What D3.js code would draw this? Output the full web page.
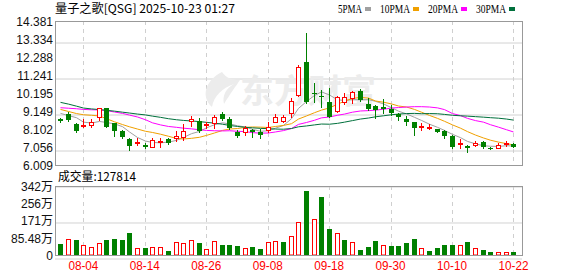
<!DOCTYPE html>
<html>
<head>
<meta charset="utf-8">
<script src="https://cdn.jsdelivr.net/npm/d3@7"></script>
<style>
  body { margin: 0; background: #fff; }
  svg { display: block; font-family: "Liberation Sans", Arial, sans-serif; }
</style>
</head>
<body>
<div id="chart"></div>
<script>
// trading days shown (MM-DD)
var dates = ["07-30","07-31","08-01","08-04","08-05","08-06","08-07","08-08",
  "08-11","08-12","08-13","08-14","08-15","08-18","08-19","08-20","08-21","08-22",
  "08-25","08-26","08-27","08-28","08-29","09-02","09-03","09-04","09-05",
  "09-08","09-09","09-10","09-11","09-12","09-15","09-16","09-17","09-18","09-19",
  "09-22","09-23","09-24","09-25","09-26","09-29","09-30","10-01","10-02","10-03",
  "10-06","10-07","10-08","10-09","10-10","10-13","10-14","10-15","10-16","10-17",
  "10-20","10-21","10-22"];

var opens = [8.66,8.95,8.39,8.26,8.33,8.82,9.30,8.43,8.00,7.54,7.29,7.19,7.08,7.37,7.50,7.60,7.66,8.59,8.57,8.32,
  8.47,8.95,8.68,7.95,7.95,8.04,7.95,8.02,8.53,8.59,9.01,10.06,12.00,10.17,10.02,9.69,9.15,9.69,9.88,10.31,
  9.56,9.42,9.36,9.25,8.95,8.68,8.49,8.20,8.20,8.10,7.99,7.70,7.23,7.11,7.15,7.35,7.02,7.00,7.25,7.21];
var highs = [8.76,9.11,8.43,8.66,8.68,9.34,9.34,8.43,8.04,7.56,7.60,7.27,7.56,7.56,7.60,7.99,8.37,8.86,8.72,8.49,
  8.92,9.11,8.82,8.04,8.30,8.08,8.08,8.49,8.97,8.92,9.88,11.82,13.66,10.76,10.37,10.47,10.02,10.17,10.33,10.41,
  9.88,9.50,9.83,9.48,9.05,8.86,8.49,8.43,8.37,8.12,8.04,7.73,7.54,7.19,7.42,7.42,7.07,7.27,7.40,7.31];
var lows = [8.49,8.55,7.93,8.20,8.24,8.63,8.22,7.71,7.56,6.88,7.17,6.98,7.04,7.04,7.21,7.40,7.46,8.29,7.95,8.14,
  8.14,8.61,8.10,7.66,7.75,7.66,7.60,7.91,8.49,8.49,8.82,10.02,9.60,9.69,9.40,8.78,9.11,9.55,9.59,9.75,
  9.21,8.72,9.05,8.90,8.62,8.35,7.77,8.04,8.08,7.93,7.60,7.00,7.00,6.75,7.13,7.00,6.92,6.98,7.13,7.04];
var closes = [8.57,8.63,8.00,8.33,8.49,9.30,8.24,8.00,7.62,7.13,7.33,7.06,7.46,7.42,7.31,7.69,7.99,8.66,7.99,8.37,
  8.82,8.66,8.14,7.71,8.18,7.91,7.75,8.24,8.78,8.82,9.73,11.69,9.69,10.15,9.98,8.82,9.94,9.94,10.25,9.79,
  9.25,9.21,9.25,9.05,8.78,8.51,8.16,8.28,8.22,7.93,7.70,7.04,7.31,7.02,7.31,7.04,6.98,7.15,7.27,7.04];

// volume in 万 shares, and colour of each volume bar (1 = red, 0 = green)
var volumes = [54.5,77.6,74.3,47.9,38.0,57.8,74.3,79.3,74.3,109.0,33.0,34.7,38.0,38.0,19.8,66.1,59.5,72.7,59.5,28.1,
  67.7,49.6,49.6,44.6,33.0,39.6,31.4,64.4,69.4,64.4,94.2,163.5,317.2,176.8,289.1,128.9,107.4,74.3,64.4,24.8,
  39.6,69.4,49.6,44.6,44.6,59.5,79.3,33.0,19.8,34.7,49.6,49.6,49.6,64.4,33.0,24.8,14.9,14.9,14.9,12.7814];
var volUp = [0,1,0,1,1,1,0,0,0,0,1,0,1,1,0,1,1,1,0,1,1,0,0,0,1,0,0,1,1,0,
  1,1,0,1,0,0,1,0,1,0,0,0,1,0,0,0,0,1,0,0,0,0,1,0,1,0,0,1,1,0];

// moving averages
var ma5 = [9.01,8.88,8.76,8.50,8.45,8.54,8.48,8.40,8.24,7.93,7.61,7.40,7.32,7.30,7.34,7.44,7.61,7.83,7.96,8.17,
  8.35,8.46,8.40,8.29,8.22,8.08,7.97,8.00,8.15,8.31,8.70,9.30,9.70,10.05,10.26,10.08,9.80,9.76,9.81,9.80,
  9.81,9.71,9.56,9.34,9.14,8.98,8.78,8.60,8.38,8.20,8.02,7.79,7.60,7.38,7.24,7.13,7.10,7.09,7.13,7.11];
var ma10 = [9.24,9.12,9.00,8.93,8.90,8.86,8.70,8.52,8.36,8.23,8.10,7.97,7.90,7.80,7.68,7.55,7.52,7.56,7.62,7.73,
  7.87,8.02,8.10,8.13,8.20,8.22,8.21,8.19,8.25,8.31,8.41,8.68,8.86,9.05,9.20,9.33,9.54,9.72,9.88,9.94,
  9.90,9.73,9.66,9.56,9.44,9.38,9.24,9.08,8.89,8.72,8.55,8.34,8.15,7.95,7.75,7.58,7.45,7.34,7.25,7.18];
var ma20 = [9.34,9.31,9.28,9.24,9.22,9.21,9.17,9.09,9.01,8.91,8.80,8.64,8.46,8.34,8.25,8.20,8.15,8.11,8.06,8.02,
  8.00,7.99,8.00,7.97,7.95,7.89,7.86,7.87,7.93,8.01,8.13,8.37,8.48,8.61,8.75,8.80,8.90,8.97,9.08,9.15,
  9.17,9.20,9.25,9.32,9.35,9.38,9.40,9.40,9.38,9.33,9.23,9.00,8.88,8.72,8.59,8.50,8.35,8.21,8.06,7.93];
var ma30 = [9.65,9.55,9.43,9.32,9.27,9.23,9.19,9.14,9.08,9.03,8.97,8.92,8.85,8.78,8.70,8.64,8.60,8.57,8.53,8.49,
  8.44,8.38,8.31,8.25,8.20,8.17,8.14,8.12,8.10,8.09,8.13,8.23,8.28,8.34,8.39,8.38,8.43,8.50,8.59,8.68,
  8.74,8.81,8.87,8.93,8.97,9.00,9.01,8.99,9.00,8.99,8.95,8.90,8.87,8.85,8.82,8.79,8.76,8.73,8.68,8.62];

var priceTicks = [6.009, 7.056, 8.102, 9.149, 10.195, 11.241, 12.288, 13.334, 14.381];
var volTicks = [0, 85.48, 170.96, 256.44, 341.92];
var volTickLabels = ["0", "85.48万", "171万", "256万", "342万"];
var labelDates = ["08-04","08-14","08-26","09-08","09-18","09-30","10-10","10-22"];
var maNames = ["5PMA", "10PMA", "20PMA", "30PMA"];
var maColors = ["#a0a0a0", "#f0a000", "#ff00ff", "#00703c"];

var title = "量子之歌[QSG] 2025-10-23 01:27";

var svgWidth = 578;
var svgHeight = 276;
var plot = { left: 55, right: 522, top: 21, bottom: 165 };
var vol = { top: 186, bottom: 255 };
var plotW = plot.right - plot.left;

var svg = d3.select("#chart")
  .append("svg")
  .attr("width", svgWidth)
  .attr("height", svgHeight);

var x = d3.scaleBand()
  .domain(dates)
  .range([56.5, 517.3]);
var y = d3.scaleLinear()
  .domain([6.009, 14.381])
  .range([plot.bottom, plot.top]);
var yv = d3.scaleLinear()
  .domain([0, 341.92])
  .range([vol.bottom, vol.top]);

function cx(d) { return Math.round(x(d) + x.bandwidth() / 2) + 0.5; }
function py(v) { return Math.round(y(v)) + 0.5; }

var red = "#ff0000";
var green = "#008000";
var gridColor = "#d2d2d2";

// horizontal grid + y labels (price)
var yAxis = svg.append("g")
  .attr("transform", `translate(${plot.left}, 0.5)`)
  .call(d3.axisLeft(y).tickValues(priceTicks).tickFormat(d3.format(".3f"))
    .tickSize(-plotW).tickPadding(2));
yAxis.select(".domain").remove();
yAxis.selectAll("line").attr("stroke", gridColor).attr("transform", null)
  .attr("y1", d => Math.round(y(d))).attr("y2", d => Math.round(y(d)));
yAxis.selectAll("text").attr("font-size", "12px").attr("fill", "#111")
  .attr("font-family", "'Liberation Sans', Arial, sans-serif");

// horizontal grid + y labels (volume)
var vAxis = svg.append("g")
  .attr("transform", `translate(${plot.left}, 0.5)`)
  .call(d3.axisLeft(yv).tickValues(volTicks).tickFormat((d, i) => volTickLabels[i])
    .tickSize(-plotW).tickPadding(2));
vAxis.select(".domain").remove();
vAxis.selectAll("line").attr("stroke", gridColor).attr("transform", null)
  .attr("y1", d => Math.round(yv(d))).attr("y2", d => Math.round(yv(d)));
vAxis.selectAll("text").attr("font-size", "12px").attr("fill", "#111")
  .attr("font-family", "'Liberation Sans', 'Noto Sans CJK SC', sans-serif");

// vertical dashed grid at labelled dates
[[plot.top, plot.bottom], [vol.top, vol.bottom]].forEach(function(r) {
  svg.append("g").selectAll("line")
    .data(labelDates)
    .enter()
    .append("line")
    .attr("x1", d => cx(d))
    .attr("x2", d => cx(d))
    .attr("y1", r[0])
    .attr("y2", r[1])
    .attr("stroke", "#cfcfcf")
    .attr("stroke-dasharray", "4,4");
});

// watermark
var wm = svg.append("g").attr("fill", "#ececec");
wm.append("path")
  .attr("d", "M222,72 C206,80 200,96 212,107 C214,96 222,88 234,84 C226,88 222,96 224,104 C230,94 236,86 240,80 C232,80 226,78 222,72 Z");
wm.append("text")
  .attr("x", 240)
  .attr("y", 103)
  .attr("font-size", "33px")
  .attr("font-weight", "bold")
  .attr("font-family", "'Noto Sans CJK SC', sans-serif")
  .attr("textLength", 136)
  .attr("lengthAdjust", "spacingAndGlyphs")
  .text("东方财富");

// moving averages
var maGroup = svg.append("g").attr("fill", "none").attr("stroke-width", 1);
[ma5, ma10, ma20, ma30].forEach(function(series, k) {
  var line = d3.line()
    .x((v, i) => cx(dates[i]))
    .y(v => y(v));
  maGroup.append("path")
    .attr("d", line(series))
    .attr("stroke", maColors[k]);
});

// candles
var candles = svg.append("g").selectAll("g")
  .data(dates)
  .enter()
  .append("g");

candles.append("line")
  .attr("x1", d => cx(d))
  .attr("x2", d => cx(d))
  .attr("y1", (d, i) => Math.round(y(highs[i])))
  .attr("y2", (d, i) => Math.round(y(lows[i])) + 1)
  .attr("stroke", (d, i) => closes[i] >= opens[i] ? red : green);

candles.append("rect")
  .attr("x", (d, i) => closes[i] >= opens[i] ? cx(d) - 2 : cx(d) - 2.5)
  .attr("y", (d, i) => {
    var top = Math.round(y(Math.max(opens[i], closes[i])));
    return closes[i] >= opens[i] ? top + 0.5 : top;
  })
  .attr("width", (d, i) => closes[i] >= opens[i] ? 4 : 5)
  .attr("height", (d, i) => {
    var h = Math.round(y(Math.min(opens[i], closes[i]))) - Math.round(y(Math.max(opens[i], closes[i])));
    return closes[i] >= opens[i] ? Math.max(h, 1) : Math.max(h, 1);
  })
  .attr("fill", (d, i) => closes[i] >= opens[i] ? "#fff" : green)
  .attr("stroke", (d, i) => closes[i] >= opens[i] ? red : "none");

// volume bars
svg.append("g").selectAll("rect")
  .data(dates)
  .enter()
  .append("rect")
  .attr("x", (d, i) => volUp[i] ? cx(d) - 2 : cx(d) - 2.5)
  .attr("y", (d, i) => Math.round(yv(volumes[i])) + (volUp[i] ? 0.5 : 0))
  .attr("width", (d, i) => volUp[i] ? 4 : 5)
  .attr("height", (d, i) => vol.bottom - Math.round(yv(volumes[i])) - (volUp[i] ? 0.5 : 0))
  .attr("fill", (d, i) => volUp[i] ? "#fff" : green)
  .attr("stroke", (d, i) => volUp[i] ? red : "none");

// panel frames
[[plot.top, plot.bottom], [vol.top, vol.bottom]].forEach(function(r) {
  svg.append("rect")
    .attr("x", plot.left + 0.5)
    .attr("y", r[0] + 0.5)
    .attr("width", plotW)
    .attr("height", r[1] - r[0])
    .attr("fill", "none")
    .attr("stroke", "#999");
});

// x axis labels
var xAxis = svg.append("g")
  .attr("transform", `translate(0, ${vol.bottom})`)
  .call(d3.axisBottom(x).tickValues(labelDates).tickSize(0).tickPadding(6));
xAxis.select(".domain").remove();
xAxis.selectAll("text")
  .attr("fill", red)
  .attr("font-size", "12px")
  .attr("font-family", "'Liberation Sans', Arial, sans-serif")
  .attr("textLength", 30)
  .attr("lengthAdjust", "spacingAndGlyphs");

// title
svg.append("text")
  .attr("x", 55)
  .attr("y", 13)
  .attr("font-size", "12px")
  .attr("font-family", "'Noto Sans CJK SC', sans-serif")
  .attr("textLength", 180)
  .attr("lengthAdjust", "spacingAndGlyphs")
  .attr("fill", "#000")
  .text(title);

// legend
var lx = 338;
maNames.forEach(function(name, k) {
  var w = name.length * 6;
  svg.append("text")
    .attr("x", lx)
    .attr("y", 13)
    .attr("font-size", "12px")
    .attr("font-family", "'Liberation Serif', serif")
    .attr("textLength", w)
    .attr("lengthAdjust", "spacingAndGlyphs")
    .text(name);
  svg.append("rect")
    .attr("x", lx + w + 3)
    .attr("y", 7)
    .attr("width", 6)
    .attr("height", 4)
    .attr("fill", maColors[k]);
  lx += w + 3 + 6 + 9;
});

// volume label
svg.append("text")
  .attr("x", 58)
  .attr("y", 181)
  .attr("font-size", "12px")
  .attr("font-family", "'Noto Sans CJK SC', sans-serif")
  .attr("textLength", 78)
  .attr("lengthAdjust", "spacingAndGlyphs")
  .text("成交量:" + Math.round(volumes[volumes.length - 1] * 10000));
</script>
</body>
</html>
